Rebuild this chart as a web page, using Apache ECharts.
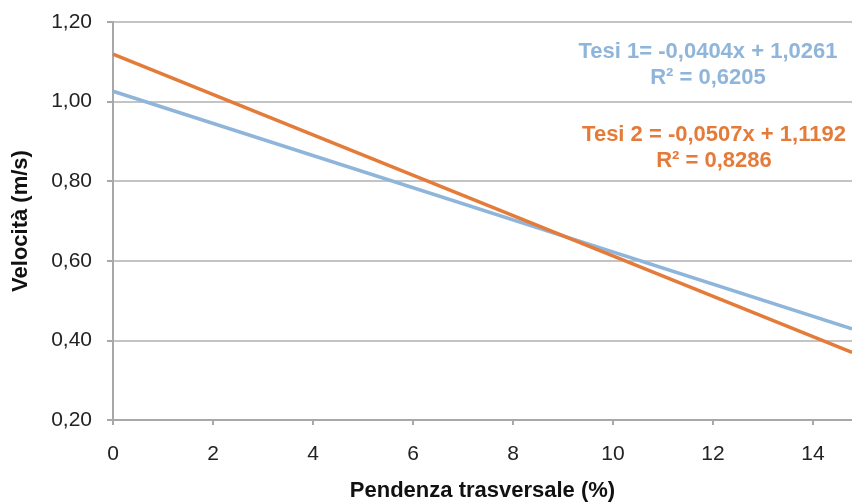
<!DOCTYPE html>
<html><head><meta charset="utf-8">
<script src="https://cdn.jsdelivr.net/npm/echarts@6/dist/echarts.min.js"></script>
<style>html,body{margin:0;padding:0;background:#fff}#c{width:852px;height:502px}</style>
</head><body><div id="c"></div>
<script>
const xValues = [0, 14.78];
const tesi1 = [1.026, 0.429];
const tesi2 = [1.119, 0.370];
const eq1 = ['Tesi 1= -0,0404x + 1,0261', 'R² = 0,6205'];
const eq2 = ['Tesi 2 = -0,0507x + 1,1192', 'R² = 0,8286'];
const xTitle = 'Pendenza trasversale (%)';
const yTitle = 'Velocità (m/s)';

const blue = '#8fb5da', orange = '#e47b38';
const chart = echarts.init(document.getElementById('c'));
const font = 'Liberation Sans, Arial, sans-serif';
chart.setOption({
  animation: false,
  grid: {left: 113, top: 22, right: 0, bottom: 82, containLabel: false, outerBoundsMode: 'none'},
  xAxis: {
    type: 'value', min: 0, max: 14.78, interval: 2,
    name: xTitle, nameLocation: 'middle', nameGap: 60,
    nameTextStyle: {fontFamily: font, fontWeight: 'bold', fontSize: 22, color: '#111'},
    axisLine: {lineStyle: {color: '#a8a8a8', width: 2}},
    axisTick: {show: true, length: 5, lineStyle: {color: '#a8a8a8', width: 2}},
    axisLabel: {showMaxLabel: false, margin: 24, fontFamily: font, fontSize: 21, color: '#222'},
    splitLine: {show: false}
  },
  yAxis: {
    type: 'value', min: 0.2, max: 1.2, interval: 0.2,
    name: yTitle, nameLocation: 'middle', nameGap: 81, nameRotate: 90,
    nameTextStyle: {fontFamily: font, fontWeight: 'bold', fontSize: 22, color: '#111'},
    axisLine: {show: true, lineStyle: {color: '#a8a8a8', width: 2}},
    axisTick: {show: true, length: 6, lineStyle: {color: '#a8a8a8', width: 2}},
    axisLabel: {margin: 21, fontFamily: font, fontSize: 21, color: '#222',
      formatter: v => v.toFixed(2).replace('.', ',')},
    splitLine: {lineStyle: {color: '#b0b0b0', width: 1.5}}
  },
  series: [
    {type: 'line', data: xValues.map((x, i) => [x, tesi1[i]]), symbol: 'none',
     lineStyle: {color: blue, width: 3.5}, z: 2},
    {type: 'line', data: xValues.map((x, i) => [x, tesi2[i]]), symbol: 'none',
     lineStyle: {color: orange, width: 3.5}, z: 3}
  ],
  graphic: [
    {type: 'text', x: 708, y: 65, style: {text: eq1.join('\n'), align: 'center', verticalAlign: 'middle',
      font: 'bold 22px ' + font, fill: blue, lineHeight: 26}},
    {type: 'text', x: 714, y: 148, style: {text: eq2.join('\n'), align: 'center', verticalAlign: 'middle',
      font: 'bold 22px ' + font, fill: orange, lineHeight: 26}}
  ]
});
</script></body></html>
